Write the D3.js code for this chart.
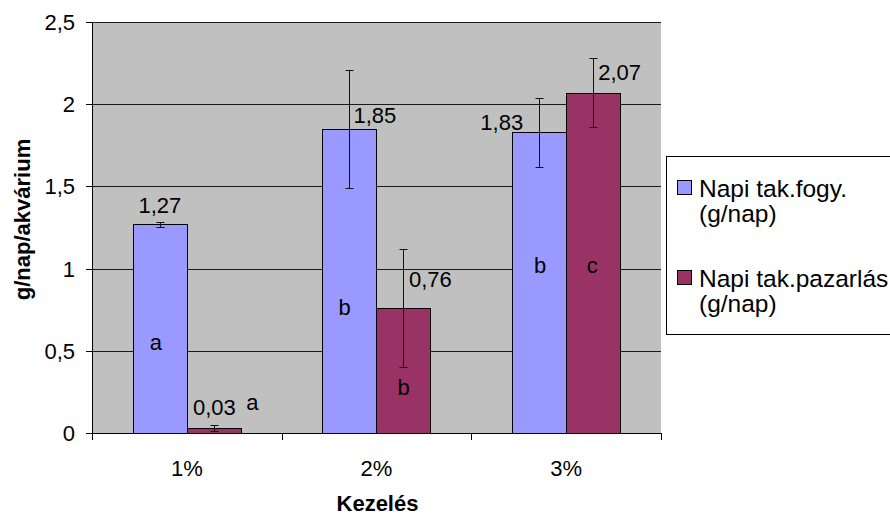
<!DOCTYPE html>
<html>
<head>
<meta charset="utf-8">
<script src="https://cdn.jsdelivr.net/npm/d3@7"></script>
<style>
  html, body { margin: 0; padding: 0; background: #fff; }
  svg { display: block; font-family: "Liberation Sans", Arial, sans-serif; }
</style>
</head>
<body>
<svg id="chart" width="890" height="517"></svg>
<script>
// ---- data ----
const categories = ["1%", "2%", "3%"];
const seriesNames = ["Napi tak.fogy. (g/nap)", "Napi tak.pazarlás (g/nap)"];
const legendLines = [["Napi tak.fogy.", "(g/nap)"], ["Napi tak.pazarlás", "(g/nap)"]];
const fogyValues = [1.27, 1.85, 1.83];
const pazarlasValues = [0.03, 0.76, 2.07];
const fogyErrors = [0.015, 0.36, 0.21];
const pazarlasErrors = [0.02, 0.36, 0.21];
const fogyLetters = ["a", "b", "b"];
const pazarlasLetters = ["a", "b", "c"];
const yTickValues = [0, 0.5, 1, 1.5, 2, 2.5];
const yTickLabels = ["0", "0,5", "1", "1,5", "2", "2,5"];
const xTitle = "Kezelés";
const yTitle = "g/nap/akvárium";

// ---- layout / style (not data) ----
const colors = ["#9999FF", "#993366"];
const plot = { left: 92, right: 661, top: 22, bottom: 433 };
const barW = 54;
// manual placement of value labels (pixel offsets from bar centre / bar top)
const valueLabelLayout = [
  [{ a: "middle", dx: 0, dy: -11 }, { a: "start", dx: 4, dy: -6 }, { a: "end", dx: -16, dy: -2 }],
  [{ a: "middle", dx: 0.5, dy: -13 }, { a: "start", dx: 5.5, dy: -21 }, { a: "start", dx: 5, dy: -12.7 }]
];
// manual placement of significance letters (dx in px, y in data units)
const letterLayout = [
  [{ dx: -4, y: 0.505 }, { dx: -5, y: 0.72 }, { dx: 1, y: 0.976 }],
  [{ dx: 38.5, y: 0.14 }, { dx: 0, y: 0.231 }, { dx: -1, y: 0.973 }]
];

const series = [
  { name: seriesNames[0], values: fogyValues, errors: fogyErrors, letters: fogyLetters },
  { name: seriesNames[1], values: pazarlasValues, errors: pazarlasErrors, letters: pazarlasLetters }
];

const svg = d3.select("#chart");
const fs = 22;

const x0 = d3.scaleBand().domain(categories).range([plot.left, plot.right]).padding(0);
const x1 = d3.scaleBand().domain([0, 1]).range([(x0.bandwidth() - 2 * barW) / 2, (x0.bandwidth() + 2 * barW) / 2]).padding(0);
const y = d3.scaleLinear().domain([0, 2.5]).range([plot.bottom, plot.top]);

const fmt = v => d3.format(".2f")(v).replace(".", ",");

// plot background
svg.append("rect")
  .attr("x", plot.left).attr("y", plot.top)
  .attr("width", plot.right - plot.left).attr("height", plot.bottom - plot.top)
  .attr("fill", "#C0C0C0");

// gridlines
svg.append("g").selectAll("line").data(yTickValues.filter(v => v > 0)).join("line")
  .attr("x1", plot.left).attr("x2", plot.right)
  .attr("y1", d => Math.round(y(d)) + 0.5).attr("y2", d => Math.round(y(d)) + 0.5)
  .attr("stroke", "#1a1a1a").attr("stroke-width", 1);

// bars
series.forEach((s, si) => {
  svg.append("g").selectAll("rect").data(s.values).join("rect")
    .attr("x", (d, i) => Math.round(x0(categories[i]) + x1(si)) + 0.5)
    .attr("y", d => Math.round(y(d)) + 0.5)
    .attr("width", barW)
    .attr("height", d => Math.round(y(0)) - Math.round(y(d)))
    .attr("fill", colors[si])
    .attr("stroke", "#000").attr("stroke-width", 1);
});

// error bars
series.forEach((s, si) => {
  const g = svg.append("g").attr("stroke", "#111").attr("stroke-width", 1);
  s.values.forEach((v, i) => {
    const cx = Math.round(x0(categories[i]) + x1(si) + barW / 2) + 0.5;
    const yt = Math.round(y(v + s.errors[i])) + 0.5;
    const yb = Math.round(y(v - s.errors[i])) + 0.5;
    g.append("line").attr("x1", cx).attr("x2", cx).attr("y1", yt).attr("y2", yb);
    g.append("line").attr("x1", cx - 4).attr("x2", cx + 4).attr("y1", yt).attr("y2", yt);
    g.append("line").attr("x1", cx - 4).attr("x2", cx + 4).attr("y1", yb).attr("y2", yb);
  });
});

// axes lines
svg.append("line").attr("x1", plot.left + 0.5).attr("x2", plot.left + 0.5)
  .attr("y1", plot.top).attr("y2", plot.bottom + 0.5).attr("stroke", "#000");
svg.append("line").attr("x1", plot.left).attr("x2", plot.right + 1)
  .attr("y1", plot.bottom + 0.5).attr("y2", plot.bottom + 0.5).attr("stroke", "#000");

// y ticks
const yAxis = svg.append("g");
yTickValues.forEach((v, i) => {
  const yy = Math.round(y(v)) + 0.5;
  yAxis.append("line").attr("x1", plot.left - 6).attr("x2", plot.left).attr("y1", yy).attr("y2", yy).attr("stroke", "#000");
  yAxis.append("text").attr("x", 75).attr("y", yy).attr("dy", "0.36em")
    .attr("text-anchor", "end").attr("font-size", fs).text(yTickLabels[i]);
});

// x ticks at category boundaries
const bounds = categories.map(c => x0(c)).concat([plot.right]);
svg.append("g").selectAll("line").data(bounds).join("line")
  .attr("x1", d => Math.round(d) + 0.5).attr("x2", d => Math.round(d) + 0.5)
  .attr("y1", plot.bottom).attr("y2", plot.bottom + 7).attr("stroke", "#000");
svg.append("g").selectAll("text").data(categories).join("text")
  .attr("x", d => x0(d) + x0.bandwidth() / 2).attr("y", 476)
  .attr("text-anchor", "middle").attr("font-size", fs).text(d => d);

// axis titles
svg.append("text").attr("x", (plot.left + plot.right) / 2 + 1).attr("y", 511)
  .attr("text-anchor", "middle").attr("font-size", fs).attr("font-weight", "bold").text(xTitle);
svg.append("text").attr("transform", `translate(29.5, ${(plot.top + plot.bottom) / 2 - 8}) rotate(-90)`)
  .attr("text-anchor", "middle").attr("font-size", fs).attr("font-weight", "bold").text(yTitle);

// value labels
series.forEach((s, si) => {
  s.values.forEach((v, i) => {
    const L = valueLabelLayout[si][i];
    const cx = x0(categories[i]) + x1(si) + barW / 2;
    svg.append("text").attr("x", cx + L.dx).attr("y", y(v) + L.dy)
      .attr("text-anchor", L.a).attr("font-size", fs).text(fmt(v));
  });
});

// significance letters
series.forEach((s, si) => {
  s.letters.forEach((t, i) => {
    const L = letterLayout[si][i];
    const cx = x0(categories[i]) + x1(si) + barW / 2;
    svg.append("text").attr("x", cx + L.dx).attr("y", y(L.y))
      .attr("text-anchor", "middle").attr("font-size", fs).text(t);
  });
});

// legend
const lg = svg.append("g");
lg.append("rect").attr("x", 666.5).attr("y", 156.5).attr("width", 260).attr("height", 178)
  .attr("fill", "#fff").attr("stroke", "#000");
legendLines.forEach((lines, si) => {
  const top = 180 + si * 90;
  lg.append("rect").attr("x", 677.5).attr("y", top + 0.5).attr("width", 14).attr("height", 14)
    .attr("fill", colors[si]).attr("stroke", "#000");
  const t = lg.append("text").attr("x", 699).attr("y", top + 17).attr("font-size", 24.5);
  lines.forEach((ln, li) => {
    t.append("tspan").attr("x", 699).attr("dy", li === 0 ? 0 : 25).text(ln);
  });
});
</script>
</body>
</html>
